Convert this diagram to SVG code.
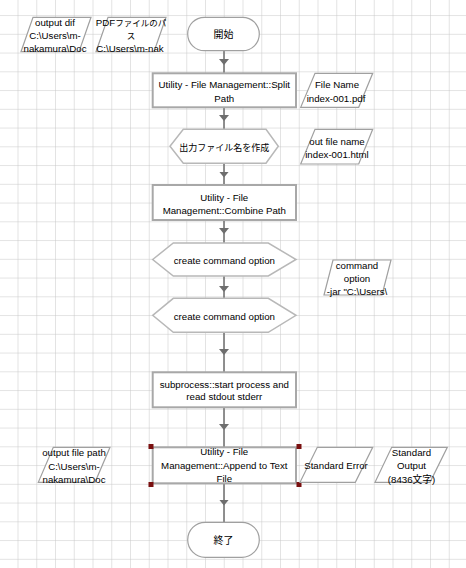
<svg xmlns="http://www.w3.org/2000/svg" width="466" height="568" viewBox="0 0 466 568">
<defs>
<pattern id="grid" x="-0.25" y="-2.7" width="18.75" height="18.75" patternUnits="userSpaceOnUse">
<path d="M18.75 0V18.75M0 18.75H18.75" fill="none" stroke="#c8c8c8" stroke-width="1"/>
</pattern>
<marker id="ah" viewBox="0 0 6 10" refX="3" refY="5" markerWidth="6" markerHeight="10" markerUnits="userSpaceOnUse" orient="auto">
<path d="M0 0L6 5L0 10Z" fill="#6e6e6e"/>
</marker>
</defs>
<style>
text{font-family:"Liberation Sans","Noto Sans CJK JP",sans-serif;font-size:9.7px;fill:#000;text-anchor:middle}
.jp{font-size:8.5px}
.term{fill:#fff;stroke:#a0a0a0;stroke-width:1.2}
.proc{fill:#fff;stroke:#a8a8a8;stroke-width:2}
.hex{fill:#fff;stroke:#b8b8b8;stroke-width:1.5}
.data{fill:#fff;stroke:#a0a0a0;stroke-width:1.2}
.conn{fill:none;stroke:#6e6e6e;stroke-width:1.5;marker-mid:url(#ah)}
.handle{fill:#7a1010}
</style>
<rect width="466" height="568" fill="#fff"/>
<rect width="466" height="568" fill="url(#grid)"/>

<g id="connectors">
<polyline class="conn" points="224,51 224,62 224,73"/>
<polyline class="conn" points="224,107 224,118 224,129"/>
<polyline class="conn" points="224,163 224,174.5 224,185"/>
<polyline class="conn" points="224,220 224,231 224,243"/>
<polyline class="conn" points="224,276 224,289 224,298"/>
<polyline class="conn" points="224,332 224,352 224,372"/>
<polyline class="conn" points="224,407 224,427 224,447"/>
<polyline class="conn" points="224,483 224,502.5 224,522"/>
</g>

<g id="start">
<rect class="term" x="187.7" y="17.3" width="71.6" height="33.4" rx="16.7"/>
<text x="223.5" y="37.8" style="font-size:10px">開始</text>
</g>

<g id="split-path">
<rect class="proc" x="152.7" y="73.3" width="143.3" height="34"/>
<text x="224.3" y="87.5">Utility - File Management::Split</text>
<text x="224.3" y="101.8">Path</text>
</g>

<g id="make-output-name">
<polygon class="hex" points="170,146.3 183.3,129.3 266,129.3 278.3,146.3 266,163.3 183.3,163.3"/>
<text x="224.3" y="150.5" style="font-size:9px">出力ファイル名を作成</text>
</g>

<g id="combine-path">
<rect class="proc" x="152.7" y="185" width="143.3" height="35"/>
<text x="224.3" y="200.8">Utility - File</text>
<text x="224.3" y="213.8">Management::Combine Path</text>
</g>

<g id="create-option-1">
<polygon class="hex" points="152.7,259.5 173.3,243 268.3,243 296,259.5 268.3,276 173.3,276"/>
<text x="224.3" y="263.5">create command option</text>
</g>

<g id="create-option-2">
<polygon class="hex" points="152.7,315.3 173.3,298.3 268.3,298.3 296,315.3 268.3,332.3 173.3,332.3"/>
<text x="224.3" y="319.5">create command option</text>
</g>

<g id="start-process">
<rect class="proc" x="152.7" y="372.3" width="143.3" height="35"/>
<text x="224.3" y="387.5">subprocess::start process and</text>
<text x="224.3" y="400.2">read stdout stderr</text>
</g>

<g id="append-text">
<rect class="proc" x="152.7" y="447.3" width="143.3" height="36"/>
<text x="224.3" y="455.2">Utility - File</text>
<text x="224.3" y="468.5">Management::Append to Text</text>
<text x="224.3" y="481.8">File</text>
<rect class="handle" x="148.5" y="444" width="5" height="5"/>
<rect class="handle" x="296.5" y="444" width="5" height="5"/>
<rect class="handle" x="148.5" y="482" width="5" height="5"/>
<rect class="handle" x="296.5" y="482" width="5" height="5"/>
</g>

<g id="end">
<rect class="term" x="187.7" y="522.3" width="71.6" height="35" rx="17.5"/>
<text x="223.5" y="544.2" style="font-size:10px">終了</text>
</g>

<g id="output-dir">
<polygon class="data" points="33,17.3 91,17.3 79,51.7 21,51.7"/>
<text x="55" y="26">output dif</text>
<text x="55" y="39">C:\Users\m-</text>
<text x="55" y="52">nakamura\Doc</text>
</g>

<g id="pdf-path">
<polygon class="data" points="108,17.3 166,17.3 154,51.7 96,51.7"/>
<text x="131" y="26">PDF<tspan class="jp">ファイルのパ</tspan></text>
<text x="131" y="39" class="jp">ス</text>
<text x="130" y="52">C:\Users\m-nak</text>
</g>

<g id="file-name">
<polygon class="data" points="315,73.3 372.7,73.3 358.7,107.3 300.7,107.3"/>
<text x="337" y="87.5">File Name</text>
<text x="336" y="101.8">index-001.pdf</text>
</g>

<g id="out-file-name">
<polygon class="data" points="315,129.3 372.7,129.3 358.7,164 300.7,164"/>
<text x="337" y="144.5">out file name</text>
<text x="337" y="157.8">index-001.html</text>
</g>

<g id="command-option">
<polygon class="data" points="333,260 391,260 382,295 324,295"/>
<text x="357" y="268.5">command</text>
<text x="357" y="281.8">option</text>
<text x="357" y="295.2">-jar "C:\Users\</text>
</g>

<g id="output-file-path">
<polygon class="data" points="53.3,447.3 110,447.3 95,482.3 38.3,482.3"/>
<text x="74" y="456.2">output file path</text>
<text x="74" y="469.5">C:\Users\m-</text>
<text x="74" y="482.8">nakamura\Doc</text>
</g>

<g id="standard-error">
<polygon class="data" points="317.3,447.3 372.7,447.3 355.3,482.3 300,482.3"/>
<text x="336" y="469.2">Standard Error</text>
</g>

<g id="standard-output">
<polygon class="data" points="391.7,447.3 447.3,447.3 430,482.3 375,482.3"/>
<text x="411.5" y="456.2">Standard</text>
<text x="411.5" y="469.2">Output</text>
<text x="411.5" y="482.5">(8436文字)</text>
</g>
</svg>
